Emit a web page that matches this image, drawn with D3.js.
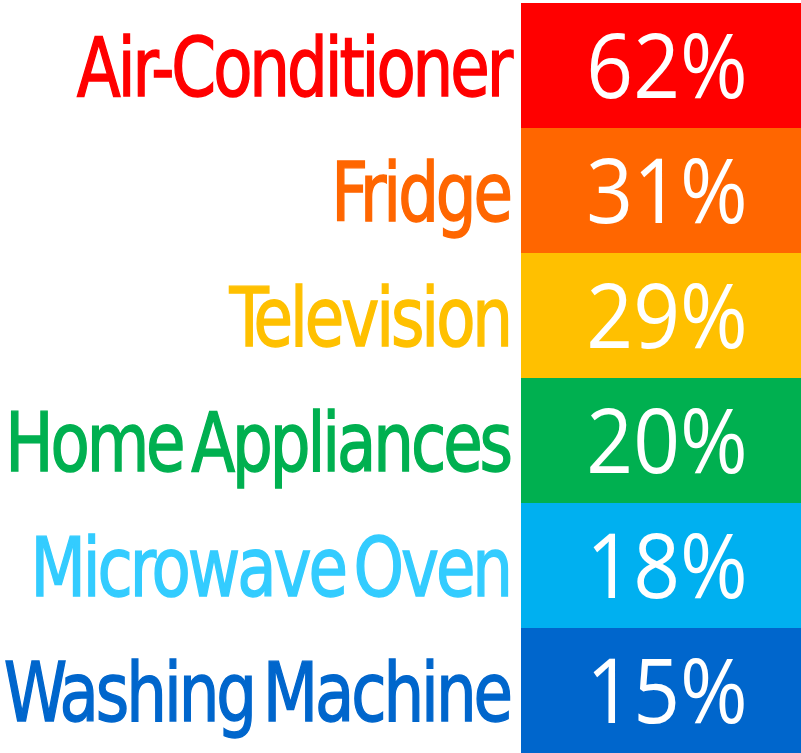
<!DOCTYPE html>
<html>
<head>
<meta charset="utf-8">
<script src="https://cdn.jsdelivr.net/npm/d3@7"></script>
<style>
  html, body { margin: 0; padding: 0; background: #fff; }
  svg { display: block; }
</style>
</head>
<body>
<div id="chart"></div>
<script>
const categories = ["Air-Conditioner", "Fridge", "Television", "Home Appliances", "Microwave Oven", "Washing Machine"]
const shares = [62, 31, 29, 20, 18, 15]
const boxColors = ["#FF0000", "#FF6600", "#FFC000", "#00B050", "#00B0F0", "#0066CC"]
const labelColors = ["#FF0000", "#FF6600", "#FFC000", "#00B050", "#33CCFF", "#0066CC"]

const width = 801
const height = 753

const svg = d3.select("#chart")
  .append("svg")
  .attr("width", width)
  .attr("height", height)

const y = d3.scaleBand()
  .domain(categories)
  .range([3, height])
  .padding(0)

const boxLeft = 521

const rows = svg.selectAll("g.row")
  .data(categories)
  .join("g")
  .attr("class", "row")

rows.append("rect")
  .attr("x", boxLeft)
  .attr("y", d => y(d))
  .attr("width", width - boxLeft)
  .attr("height", y.bandwidth())
  .attr("fill", (d, i) => boxColors[i])

// percentage in the box
rows.append("text")
  .attr("transform", d => `translate(${boxLeft + (width - boxLeft) / 2 + 6},${y(d) + y.bandwidth() / 2 + 32}) scale(0.91,1)`)
  .attr("text-anchor", "middle")
  .attr("fill", "#fff")
  .attr("font-family", "'Open Sans', sans-serif")
  .attr("font-size", "90px")
  .text((d, i) => shares[i] + "%")

// category label, squeezed horizontally like a DIN face
const labelRight = 510
rows.append("text")
  .attr("transform", d => `translate(${labelRight},${y(d) + y.bandwidth() / 2 + 30}) scale(0.87,1)`)
  .attr("text-anchor", "end")
  .attr("fill", (d, i) => labelColors[i])
  .attr("stroke", (d, i) => labelColors[i])
  .attr("stroke-width", 1.4)
  .attr("font-family", "'DejaVu Sans Condensed', 'DejaVu Sans', sans-serif")
  .attr("font-stretch", "condensed")
  .attr("font-size", "82px")
  .attr("letter-spacing", "-3.5px")
  .attr("word-spacing", "-10px")
  .text(d => d)
</script>
</body>
</html>
